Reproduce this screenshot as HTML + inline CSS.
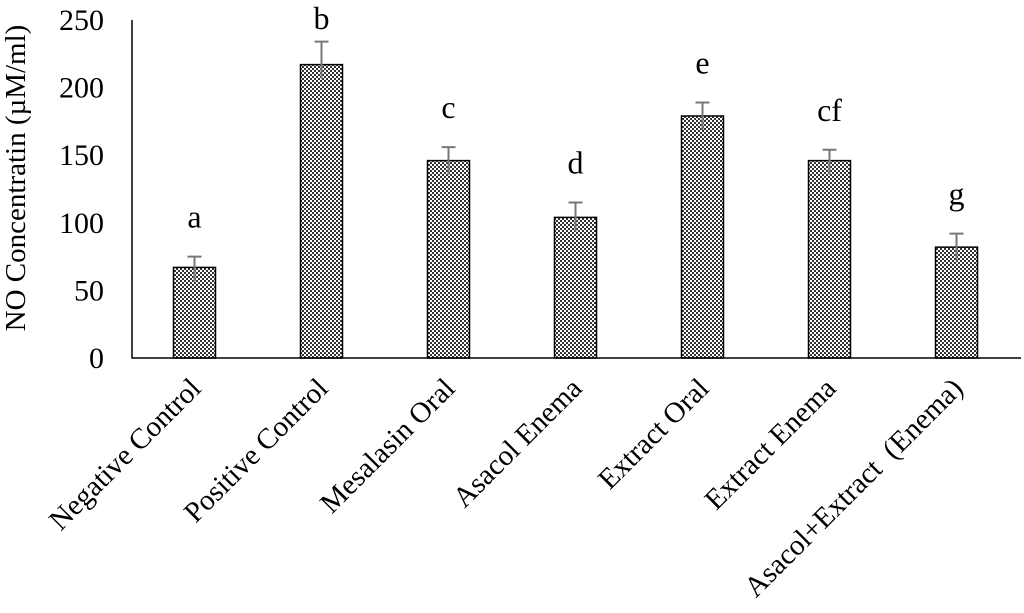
<!DOCTYPE html>
<html><head><meta charset="utf-8">
<style>
html,body{margin:0;padding:0;background:#fff;}
svg{display:block;font-family:"Liberation Serif",serif;}
</style></head>
<body>
<svg id="chart" width="1024" height="613" viewBox="0 0 1024 613" xmlns="http://www.w3.org/2000/svg">
<defs>
<pattern id="checker" width="4" height="4" patternUnits="userSpaceOnUse">
<rect width="4" height="4" fill="#fff"/>
<rect width="2" height="2" fill="#333"/>
<rect x="2" y="2" width="2" height="2" fill="#333"/>
</pattern>
</defs>
<g id="plot"></g>
</svg>
<script>
const categories = ["Negative Control","Positive Control","Mesalasin Oral","Asacol Enema","Extract Oral","Extract Enema","Asacol+Extract  (Enema)"];
const values = [67, 217, 146, 104, 179, 146, 82];
const errors = [8, 17, 10, 11, 10, 8, 10];
const letters = ["a","b","c","d","e","cf","g"];
const yTicks = [0, 50, 100, 150, 200, 250];

const NS = "http://www.w3.org/2000/svg";
const g = document.getElementById('plot');
const x0 = 132, x1 = 1021, yBase = 358, yTop = 20, yMax = 250;
const band = (x1 - x0) / categories.length;
const barW = 42;
function y(v){ return yBase - (v / yMax) * (yBase - yTop); }
function xc(i){ return x0 + band * (i + 0.5) - 1; }
function mk(tag, attrs, parent){
  const e = document.createElementNS(NS, tag);
  for (const k in attrs) e.setAttribute(k, attrs[k]);
  (parent || g).appendChild(e);
  return e;
}

yTicks.forEach(t => {
  const tx = mk('text', {x: 104, y: y(t) + 10, 'text-anchor': 'end', 'font-size': 30, fill: '#000'});
  
  
  tx.textContent = t;
});

const yt = mk('text', {x: 0, y: 0, 'text-anchor': 'middle', 'font-size': 29, fill: '#000', transform: 'translate(25,178) rotate(-90)'});


yt.textContent = 'NO Concentratin (\u00B5M/ml)';

categories.forEach((c, i) => {
  const cx = xc(i);
  const r = mk('rect', {x: cx - barW/2, y: y(values[i]), width: barW, height: yBase - y(values[i]), fill: 'url(#checker)', stroke: '#000', 'stroke-width': 1.5});
  
  
  const top = y(values[i] + errors[i]);
  const el = mk('path', {d: `M${cx} ${y(values[i]) + 14} V${top} M${cx - 7} ${top} H${cx + 7}`, stroke: '#777', 'stroke-width': 2, fill: 'none'});
  
  
  const lt = mk('text', {x: cx, y: Math.max(top - 29, 29), 'text-anchor': 'middle', 'font-size': 32, fill: '#000'});
  
  
  lt.textContent = letters[i];
  const cl = mk('text', {x: 0, y: 0, 'text-anchor': 'end', 'font-size': 29, fill: '#000', transform: `translate(${cx + 8},${yBase + 32}) rotate(-45)`});
  
  
  cl.style.whiteSpace = 'pre';
  cl.textContent = c;
});

const ax = mk('path', {d: `M${x0} ${yTop} V${yBase} H${x1}`, stroke: '#000', 'stroke-width': 1.5, fill: 'none'});


</script>
</body></html>
